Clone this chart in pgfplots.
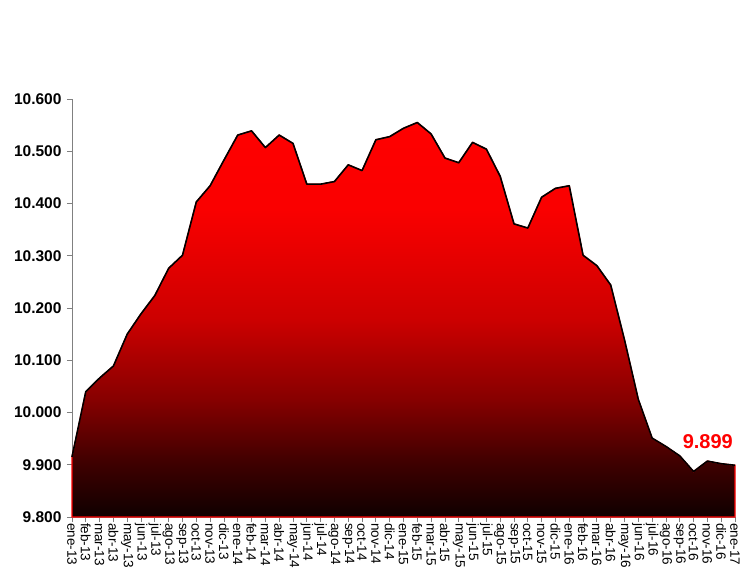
\documentclass[border=0pt]{standalone}
\usepackage{pgfplots}
\usepackage{pgfplotstable}
\pgfplotsset{compat=1.18}
\usepackage{fontspec}
\setmainfont{Liberation Sans}

\definecolor{axisgray}{RGB}{128,128,128}

% red to black, stops inside 25bp..75bp (the part mapped onto the path)
\pgfdeclareverticalshading{redblack}{100bp}{
  rgb(0bp)=(0.06,0,0);
  rgb(25bp)=(0.06,0,0);
  rgb(32bp)=(0.25,0,0);
  rgb(40bp)=(0.53,0,0);
  rgb(50bp)=(0.80,0,0);
  rgb(64bp)=(0.98,0,0);
  rgb(75bp)=(1,0,0);
  rgb(100bp)=(1,0,0)}

% monthly values, ene-13 = 0
\pgfplotstableread{
m   v
0   9915
1   10040
2   10066
3   10089
4   10150
5   10189
6   10224
7   10276
8   10301
9   10403
10  10434
11  10483
12  10531
13  10539
14  10507
15  10531
16  10515
17  10437
18  10437
19  10442
20  10474
21  10463
22  10522
23  10528
24  10544
25  10555
26  10533
27  10487
28  10478
29  10517
30  10504
31  10452
32  10361
33  10353
34  10412
35  10429
36  10434
37  10301
38  10281
39  10244
40  10139
41  10025
42  9951
43  9935
44  9917
45  9887
46  9907
47  9902
48  9899
}\datatable

\begin{document}
\begin{tikzpicture}
\path[use as bounding box] (0,0) rectangle (742bp,570bp);
\begin{axis}[
  at={(72bp,53bp)}, anchor=south west,
  scale only axis, width=663bp, height=418bp,
  xmin=0, xmax=48, ymin=9800, ymax=10600,
  axis lines*=left,
  axis line style={axisgray, line width=0.8bp},
  tick style={axisgray, line width=0.8bp},
  tick align=outside, major tick length=5bp,
  clip=false,
  ytick={9800,9900,...,10600},
  scaled y ticks=false,
  /pgf/number format/fixed,
  /pgf/number format/1000 sep={.},
  /pgf/number format/assume math mode=true,
  yticklabel style={font=\fontsize{15.5bp}{17bp}\selectfont\bfseries, xshift=-2bp},
  xtick={0,...,48},
  xticklabels={ene-13,feb-13,mar-13,abr-13,may-13,jun-13,jul-13,ago-13,sep-13,oct-13,nov-13,dic-13,
    ene-14,feb-14,mar-14,abr-14,may-14,jun-14,jul-14,ago-14,sep-14,oct-14,nov-14,dic-14,
    ene-15,feb-15,mar-15,abr-15,may-15,jun-15,jul-15,ago-15,sep-15,oct-15,nov-15,dic-15,
    ene-16,feb-16,mar-16,abr-16,may-16,jun-16,jul-16,ago-16,sep-16,oct-16,nov-16,dic-16,ene-17},
  xticklabel style={font=\fontsize{13.5bp}{15bp}\selectfont, rotate=-90, anchor=west, inner sep=1bp},
]
\addplot[draw=red, line width=1.2bp, shading=redblack]
  table[x=m, y=v] {\datatable} \closedcycle;
\addplot[black, line width=1.6bp, line join=round, mark=none]
  table[x=m, y=v] {\datatable};
\addplot[draw=none, mark=none, nodes near coords, point meta=explicit symbolic,
  nodes near coords style={font=\fontsize{20bp}{22bp}\selectfont\bfseries, text=red,
    anchor=south east, inner sep=0pt, xshift=-2bp, yshift=16bp}]
  coordinates {(48,9899) [9.899]};
\end{axis}
\end{tikzpicture}
\end{document}
